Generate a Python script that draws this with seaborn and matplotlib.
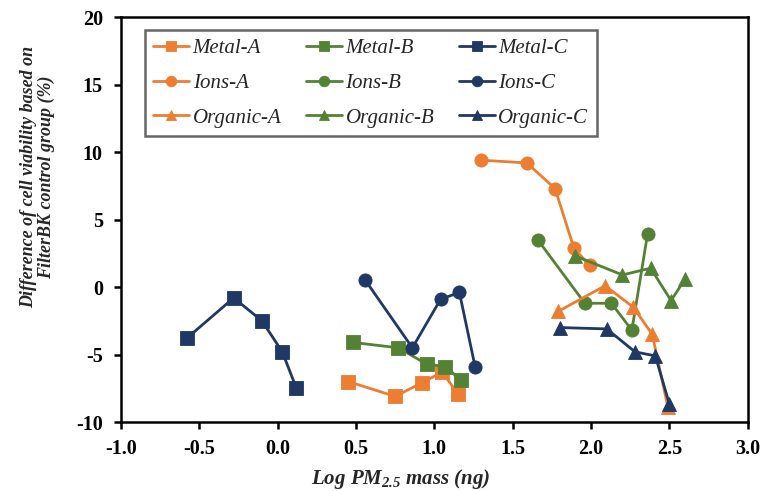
import numpy as np
import pandas as pd
import matplotlib
matplotlib.use("Agg")
import matplotlib.pyplot as plt
import seaborn as sns

# ---- data ----
metal_a_x = [0.45, 0.75, 0.92, 1.05, 1.15]
metal_a_y = [-7.0, -8.1, -7.1, -6.3, -7.9]
metal_b_x = [0.48, 0.77, 0.95, 1.07, 1.17]
metal_b_y = [-4.1, -4.5, -5.7, -5.9, -6.9]
metal_c_x = [-0.58, -0.28, -0.10, 0.03, 0.12]
metal_c_y = [-3.8, -0.8, -2.5, -4.8, -7.5]
ions_a_x = [1.30, 1.59, 1.77, 1.89, 1.99]
ions_a_y = [9.4, 9.2, 7.3, 2.9, 1.6]
ions_b_x = [1.66, 1.96, 2.13, 2.26, 2.36]
ions_b_y = [3.5, -1.2, -1.2, -3.2, 3.9]
ions_c_x = [0.56, 0.86, 1.04, 1.16, 1.26]
ions_c_y = [0.5, -4.5, -0.9, -0.4, -5.9]
org_a_x = [1.79, 2.09, 2.27, 2.39, 2.49]
org_a_y = [-1.8, 0.1, -1.5, -3.5, -8.9]
org_b_x = [1.90, 2.20, 2.38, 2.51, 2.60]
org_b_y = [2.3, 0.9, 1.4, -1.0, 0.6]
org_c_x = [1.80, 2.10, 2.28, 2.41, 2.50]
org_c_y = [-3.0, -3.1, -4.8, -5.1, -8.7]

series = [
    ("Metal-A", metal_a_x, metal_a_y),
    ("Metal-B", metal_b_x, metal_b_y),
    ("Metal-C", metal_c_x, metal_c_y),
    ("Ions-A", ions_a_x, ions_a_y),
    ("Ions-B", ions_b_x, ions_b_y),
    ("Ions-C", ions_c_x, ions_c_y),
    ("Organic-A", org_a_x, org_a_y),
    ("Organic-B", org_b_x, org_b_y),
    ("Organic-C", org_c_x, org_c_y),
]
x_ticks = [-1.0, -0.5, 0.0, 0.5, 1.0, 1.5, 2.0, 2.5, 3.0]
y_ticks = [-10, -5, 0, 5, 10, 15, 20]

ORANGE = "#ED7D31"
GREEN = "#548235"
NAVY = "#1F3864"
col_of = {"A": ORANGE, "B": GREEN, "C": NAVY}
mk_of = {"Metal": "s", "Ions": "o", "Organic": "^"}

rows = []
for name, xs, ys in series:
    for i, (xv, yv) in enumerate(zip(xs, ys)):
        rows.append({"series": name, "x": xv, "y": yv, "order": i})
df = pd.DataFrame(rows)
names = [s[0] for s in series]
palette = {n: col_of[n.split("-")[1]] for n in names}
markers = {n: mk_of[n.split("-")[0]] for n in names}

sns.set_style("ticks")
plt.rcParams["font.family"] = ["Liberation Serif", "DejaVu Serif"]
plt.rcParams["axes.unicode_minus"] = False
plt.rcParams["mathtext.fontset"] = "custom"
plt.rcParams["mathtext.rm"] = "Liberation Serif:bold:italic"
plt.rcParams["mathtext.it"] = "Liberation Serif:bold:italic"
plt.rcParams["mathtext.bf"] = "Liberation Serif:bold:italic"

fig = plt.figure(figsize=(7.6, 4.91), dpi=100)
ax = fig.add_axes([0.159, 0.1405, 0.825, 0.8245])

sns.lineplot(data=df, x="x", y="y", hue="series", style="series",
             hue_order=names, style_order=names, palette=palette,
             markers=markers, dashes=False, sort=False, estimator=None,
             units="series", linewidth=2, markersize=9.5,
             markeredgewidth=0.6, ax=ax)
for ln in ax.lines:
    ln.set_markeredgecolor(ln.get_color())

ax.set_xlim(-1.0, 3.0)
ax.set_ylim(-10, 20)
ax.set_xticks(x_ticks)
ax.set_xticklabels([f"{v:.1f}" for v in x_ticks])
ax.set_yticks(y_ticks)
ax.set_yticklabels([str(v) for v in y_ticks])
for lab in ax.get_xticklabels() + ax.get_yticklabels():
    lab.set_fontweight("bold")
    lab.set_fontsize(14.5)
ax.tick_params(direction="out", length=5, width=1.8, colors="black")
ax.tick_params(axis="y", pad=8)
ax.tick_params(axis="x", pad=7)
for sp in ax.spines.values():
    sp.set_visible(True)
    sp.set_linewidth(1.8)
    sp.set_color("black")

ax.set_xlabel("Log PM$_{2.5}$ mass (ng)", fontsize=15, fontweight="bold",
              style="italic")
ax.xaxis.set_label_coords(0.447, -0.14)
ax.xaxis.label.set_verticalalignment("center")
ax.set_ylabel("Difference of cell viability based on\nFilterBK control group (%)",
              fontsize=13, fontweight="bold", style="italic",
              linespacing=1.0)
ax.yaxis.set_label_coords(-0.133, 0.605)
ax.yaxis.label.set_verticalalignment("center")

handles, labels = ax.get_legend_handles_labels()
hmap = dict(zip(labels, handles))
order = ["Metal-A", "Ions-A", "Organic-A",
         "Metal-B", "Ions-B", "Organic-B",
         "Metal-C", "Ions-C", "Organic-C"]
leg = ax.legend([hmap[n] for n in order], order, ncol=3,
                loc="upper left", bbox_to_anchor=(0.038, 0.968),
                borderaxespad=0,
                frameon=True, fancybox=False, edgecolor="#404040",
                prop={"family": "Liberation Serif", "style": "italic", "size": 15},
                handlelength=1.73, handletextpad=0.15, columnspacing=1.2,
                labelspacing=0.72, borderpad=0.42, markerscale=0.8)
leg.get_frame().set_linewidth(1.8)

fig.savefig("out.png", dpi=100)
